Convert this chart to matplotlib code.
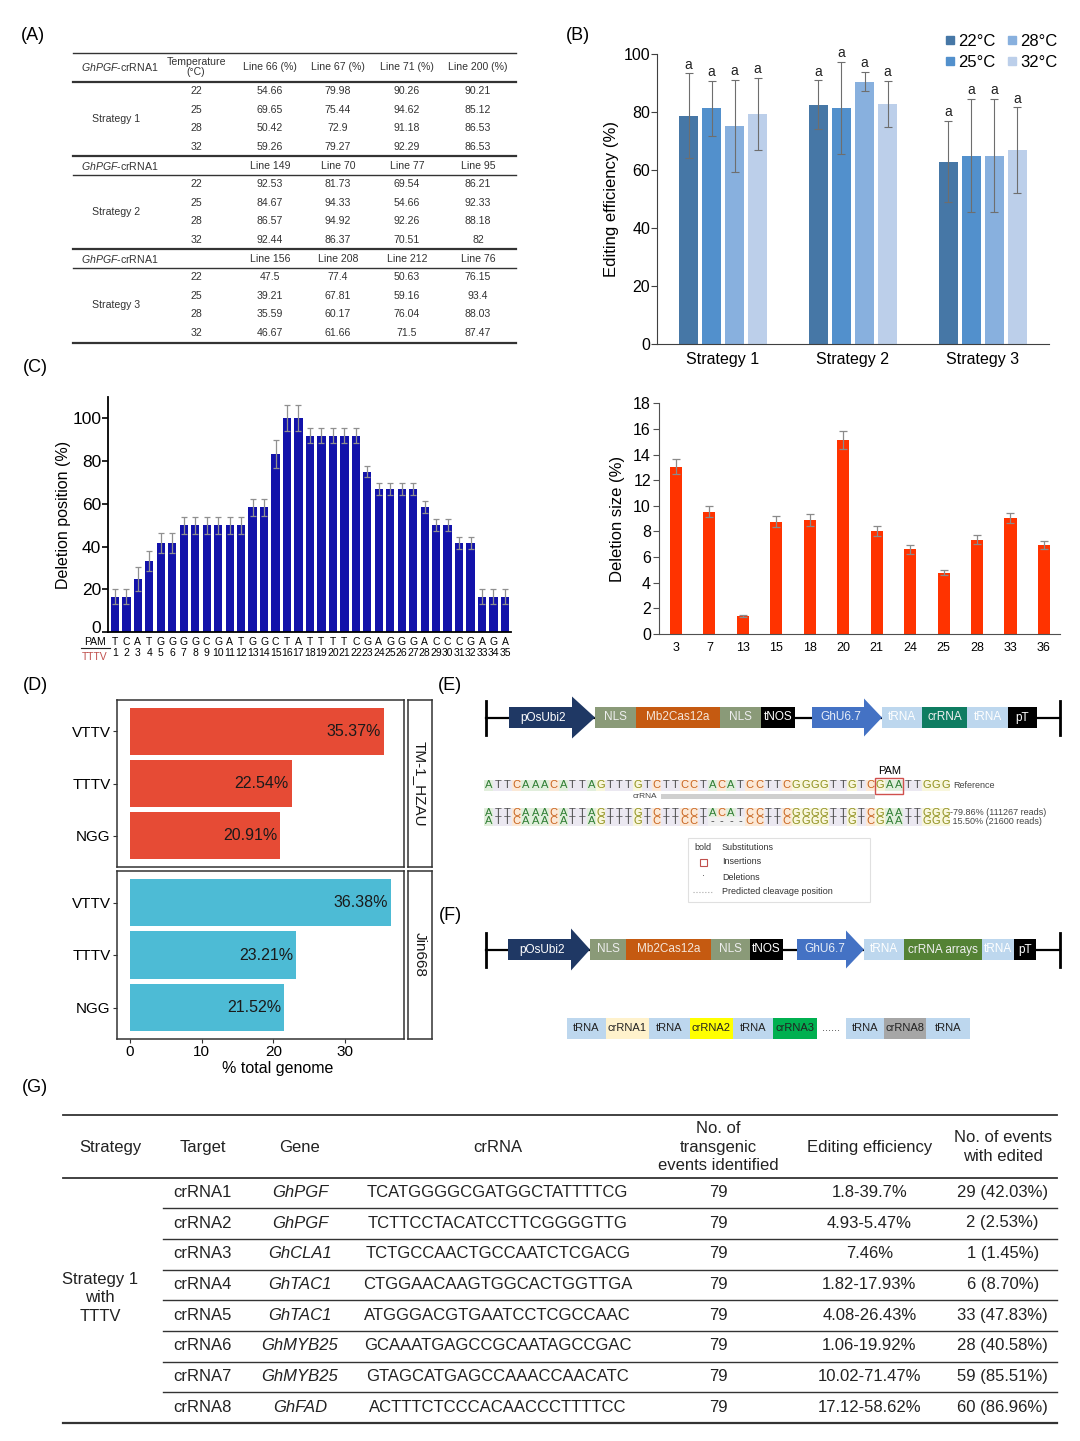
import numpy as np
import matplotlib.pyplot as plt
import matplotlib.transforms as mtrans
from matplotlib.patches import Rectangle, Polygon
from matplotlib.lines import Line2D
from matplotlib.transforms import blended_transform_factory

plt.rcParams['font.family'] = ['Liberation Sans', 'DejaVu Sans']
plt.rcParams['mathtext.fontset'] = 'custom'
plt.rcParams['mathtext.rm'] = 'Liberation Sans'
plt.rcParams['mathtext.it'] = 'Liberation Sans:italic'

W, H = 1080, 1441

# ---------------- data ----------------
# (A) editing efficiency of each line
a_strategies = ['Strategy 1', 'Strategy 2', 'Strategy 3']
a_temps = ['22', '25', '28', '32']
a_lines = [['Line 66 (%)', 'Line 67 (%)', 'Line 71 (%)', 'Line 200 (%)'],
           ['Line 149', 'Line 70', 'Line 77', 'Line 95'],
           ['Line 156', 'Line 208', 'Line 212', 'Line 76']]
a_s1 = [['54.66', '79.98', '90.26', '90.21'],
        ['69.65', '75.44', '94.62', '85.12'],
        ['50.42', '72.9', '91.18', '86.53'],
        ['59.26', '79.27', '92.29', '86.53']]
a_s2 = [['92.53', '81.73', '69.54', '86.21'],
        ['84.67', '94.33', '54.66', '92.33'],
        ['86.57', '94.92', '92.26', '88.18'],
        ['92.44', '86.37', '70.51', '82']]
a_s3 = [['47.5', '77.4', '50.63', '76.15'],
        ['39.21', '67.81', '59.16', '93.4'],
        ['35.59', '60.17', '76.04', '88.03'],
        ['46.67', '61.66', '71.5', '87.47']]

# (B) mean editing efficiency
b_groups = ['Strategy 1', 'Strategy 2', 'Strategy 3']
b_temps = ['22°C', '25°C', '28°C', '32°C']
b_22 = [78.78, 82.50, 62.92]
b_25 = [81.21, 81.50, 64.90]
b_28 = [75.26, 90.48, 64.96]
b_32 = [79.34, 82.83, 66.83]
b_22_sd = [14.5, 8.4, 13.9]
b_25_sd = [9.5, 15.9, 19.5]
b_28_sd = [15.8, 3.3, 19.6]
b_32_sd = [12.5, 8.0, 14.8]
b_colors = ['#4677a6', '#5290cc', '#88b0de', '#bccfea']

# (C) deletion position / size
c_bases = list('TCATGGGGCGATGGCTATTTTCGAGGGACCCGAGA')
c_pos = [16.7, 16.7, 25.0, 33.3, 41.7, 41.7, 50, 50, 50, 50, 50, 50, 58.3, 58.3,
         83.3, 100, 100, 91.7, 91.7, 91.7, 91.7, 91.7, 75.0, 66.7, 66.7, 66.7, 66.7,
         58.3, 50, 50, 41.7, 41.7, 16.7, 16.7, 16.7]
c_pos_err = [3.4, 3.4, 5.6, 4.7, 4.5, 4.5, 4, 4, 4, 4, 4, 4, 4, 4, 6.4, 5.9, 5.9,
             3.5, 3.5, 3.5, 3.5, 3.5, 2.7, 2.8, 2.8, 2.8, 2.8, 2.8, 2.8, 2.8, 3, 3,
             3.5, 3.5, 3.5]
c_size_cats = ['3', '7', '13', '15', '18', '20', '21', '24', '25', '28', '33', '36']
c_size = [13.05, 9.55, 1.40, 8.77, 8.9, 15.1, 8.06, 6.6, 4.79, 7.36, 9.05, 6.97]
c_size_err = [0.6, 0.45, 0.05, 0.45, 0.45, 0.7, 0.4, 0.35, 0.2, 0.37, 0.42, 0.32]

# (D) PAM frequency in genomes
d_pams = ['VTTV', 'TTTV', 'NGG']
d_tm1 = [35.37, 22.54, 20.91]
d_jin = [36.38, 23.21, 21.52]

# (E) amplicon alleles
e_ref = 'ATTCAAACATTAGTTTGTCTTCCTACATCCTTCGGGGTTGTCGAATTGGG'
e_alleles = ['ATTCAAACATTAGTTTGTCTTCCTACATCCTTCGGGGTTGTCGAATTGGG',
             'ATTCAAACATTAGTTTGTCTTCCT----CCTTCGGGGTTGTCGAATTGGG']
e_allele_labels = ['-79.86% (111267 reads)', ' 15.50% (21600 reads)']

# (G) multiplex editing summary
g_targets = ['crRNA1', 'crRNA2', 'crRNA3', 'crRNA4', 'crRNA5', 'crRNA6', 'crRNA7', 'crRNA8']
g_genes = ['GhPGF', 'GhPGF', 'GhCLA1', 'GhTAC1', 'GhTAC1', 'GhMYB25', 'GhMYB25', 'GhFAD']
g_seqs = ['TCATGGGGCGATGGCTATTTTCG', 'TCTTCCTACATCCTTCGGGGTTG',
          'TCTGCCAACTGCCAATCTCGACG', 'CTGGAACAAGTGGCACTGGTTGA',
          'ATGGGACGTGAATCCTCGCCAAC', 'GCAAATGAGCCGCAATAGCCGAC',
          'GTAGCATGAGCCAAACCAACATC', 'ACTTTCTCCCACAACCCTTTTCC']
g_events = ['79', '79', '79', '79', '79', '79', '79', '79']
g_eff = ['1.8-39.7%', '4.93-5.47%', '7.46%', '1.82-17.93%', '4.08-26.43%',
         '1.06-19.92%', '10.02-71.47%', '17.12-58.62%']
g_edited = ['29 (42.03%)', '2 (2.53%)', '1 (1.45%)', '6 (8.70%)', '33 (47.83%)',
            '28 (40.58%)', '59 (85.51%)', '60 (86.96%)']

# ---------------- figure ----------------
fig = plt.figure(figsize=(W / 100, H / 100), dpi=100)


def add_ax(x0, y0, x1, y1):
    return fig.add_axes([x0 / W, 1 - y1 / H, (x1 - x0) / W, (y1 - y0) / H])


bg = fig.add_axes([0, 0, 1, 1])
bg.set_xlim(0, W)
bg.set_ylim(H, 0)
bg.axis('off')
bg.patch.set_alpha(0)
bg.set_zorder(10)

for lab, (x, y) in {'(A)': (33, 35), '(B)': (578, 35), '(C)': (35, 368), '(D)': (35, 685),
                    '(E)': (450, 685), '(F)': (450, 915), '(G)': (35, 1087)}.items():
    bg.text(x, y, lab, fontsize=13, ha='center', va='center')

# ---- (A) table ----
tc = '#333333'
fa = 7.6
for y, lw in [(52.7, 1.0), (81.7, 1.6), (156, 1.6), (175, 1.0), (249, 1.6), (267.7, 1.0), (342.7, 1.6)]:
    bg.plot([72.7, 516], [y, y], color=tc, lw=lw)
col_x = [270, 338, 407, 478]
hdr_y = [67, 165.7, 259]
row_y0 = [91, 184, 277]
a_tabs = [a_s1, a_s2, a_s3]
for s in range(3):
    bg.text(120, hdr_y[s], r'$\mathit{GhPGF}$-crRNA1', fontsize=fa, ha='center', va='center', color=tc)
    for j in range(4):
        bg.text(col_x[j], hdr_y[s], a_lines[s][j], fontsize=fa, ha='center', va='center', color=tc)
    ys = row_y0[s] + np.arange(4) * 18.7
    bg.text(116, ys.mean(), a_strategies[s], fontsize=fa, ha='center', va='center', color=tc)
    for i in range(4):
        bg.text(196, ys[i], a_temps[i], fontsize=fa, ha='center', va='center', color=tc)
        for j in range(4):
            bg.text(col_x[j], ys[i], a_tabs[s][i][j], fontsize=fa, ha='center', va='center', color=tc)
bg.text(196, 67, 'Temperature\n(°C)', fontsize=fa, ha='center', va='center', color=tc, linespacing=1.1)

# ---- (B) ----
axB = add_ax(657, 54, 1049, 344)
xg = np.arange(3)
b_vals = [b_22, b_25, b_28, b_32]
b_sds = [b_22_sd, b_25_sd, b_28_sd, b_32_sd]
handles = []
for k in range(4):
    xs = xg + (k - 1.5) * 0.177
    axB.bar(xs, b_vals[k], width=0.146, color=b_colors[k])
    axB.errorbar(xs, b_vals[k], yerr=b_sds[k], fmt='none', ecolor='#6e6e6e',
                 elinewidth=0.8, capsize=3, capthick=0.8)
    for xi, m, e in zip(xs, b_vals[k], b_sds[k]):
        axB.text(xi, m + e + 0.6, 'a', ha='center', va='bottom', fontsize=10, color='#222222')
    handles.append(Line2D([], [], marker='s', color=b_colors[k], linestyle='none', markersize=6))
axB.set_xlim(-0.508, 2.508)
axB.set_ylim(0, 100)
axB.set_yticks(range(0, 101, 20))
axB.set_xticks(xg)
axB.set_xticklabels(b_groups)
for s in ['top', 'right']:
    axB.spines[s].set_visible(False)
for s in ['left', 'bottom']:
    axB.spines[s].set_color('#404040')
axB.tick_params(axis='y', length=4, color='#404040', labelsize=11.5, pad=1)
axB.tick_params(axis='x', length=0, labelsize=11.5, pad=6)
axB.set_ylabel('Editing efficiency (%)', fontsize=12, labelpad=3)
fig.legend(handles, b_temps, loc='upper right', bbox_to_anchor=(1066 / W, 1 - 26 / H), ncol=2,
           frameon=False, fontsize=12, handlelength=0.6, handletextpad=0.2,
           columnspacing=0.7, labelspacing=0.35, borderpad=0)

# ---- (C) left: deletion position ----
axC1 = add_ax(108.3, 396.7, 510.7, 632.3)
xp = np.arange(1, 36)
axC1.bar(xp, c_pos, width=0.72, color='#1212aa')
axC1.errorbar(xp, c_pos, yerr=c_pos_err, fmt='none', ecolor='#909090', elinewidth=0.9,
              capsize=2.5, capthick=0.9)
axC1.set_xlim(0.42, 35.5)
axC1.set_ylim(0, 110)
axC1.set_yticks(range(0, 101, 20))
axC1.set_xticks([])
for s in ['top', 'right']:
    axC1.spines[s].set_visible(False)
for s in ['left', 'bottom']:
    axC1.spines[s].set_linewidth(1.3)
axC1.tick_params(axis='y', length=4, width=1.2, labelsize=12.5, pad=1)
axC1.set_ylabel('Deletion position (%)', fontsize=11.5, labelpad=1)
# the zero label sits a little above the x axis in the reference
t0 = axC1.yaxis.get_major_ticks()[0]
t0.label1.set_transform(t0.label1.get_transform() +
                        mtrans.ScaledTranslation(0, 5 / 100, fig.dpi_scale_trans))
trC = blended_transform_factory(axC1.transData, bg.transData)
for i, b in enumerate(c_bases):
    axC1.text(xp[i], 642, b, transform=trC, ha='center', va='center', fontsize=7.5)
    axC1.text(xp[i], 653, str(xp[i]), transform=trC, ha='center', va='center', fontsize=7.5)
bg.text(95, 642, 'PAM', fontsize=7.5, ha='center', va='center')
bg.plot([81, 110], [647.5, 647.5], color='#222222', lw=0.8)
bg.text(95, 656.5, 'TTTV', fontsize=7.5, ha='center', va='center', color='#c0504d')

# ---- (C) right: deletion size ----
axC2 = add_ax(659.3, 403.3, 1060, 634)
xs2 = np.arange(len(c_size_cats))
axC2.bar(xs2, c_size, width=0.36, color='#ff3300')
axC2.errorbar(xs2, c_size, yerr=c_size_err, fmt='none', ecolor='#8a8a8a', elinewidth=0.9,
              capsize=3, capthick=0.9)
axC2.set_xlim(-0.5, 11.48)
axC2.set_ylim(0, 18)
axC2.set_yticks(range(0, 19, 2))
axC2.set_xticks(xs2)
axC2.set_xticklabels(c_size_cats)
for s in ['top', 'right']:
    axC2.spines[s].set_visible(False)
for s in ['left', 'bottom']:
    axC2.spines[s].set_color('#505050')
axC2.tick_params(axis='y', length=4, color='#505050', labelsize=11.5, pad=2)
axC2.tick_params(axis='x', length=0, labelsize=9, pad=6)
axC2.set_ylabel('Deletion size (%)', fontsize=12, labelpad=6)

# ---- (D) ----
d_sets = [(d_tm1, '#e64b35', 'TM-1_HZAU', 700, 867), (d_jin, '#4dbbd5', 'Jin668', 871, 1039)]
yd = np.array([3, 2, 1])
for n, (vals, col, strip, y0, y1) in enumerate(d_sets):
    ax = add_ax(116.7, y0, 404.3, y1)
    ax.barh(yd, vals, height=0.9, color=col)
    for yy, v in zip(yd, vals):
        ax.text(v - 0.4, yy, f'{v:.2f}%', ha='right', va='center', fontsize=11.5, color='#1a1a1a')
    ax.set_xlim(-1.86, 38.26)
    ax.set_ylim(0.4, 3.6)
    ax.set_yticks(yd)
    ax.set_yticklabels(d_pams)
    ax.set_xticks([0, 10, 20, 30])
    for s in ax.spines.values():
        s.set_color('#333333')
        s.set_linewidth(1.1)
    ax.tick_params(axis='y', length=3, color='#333333', labelsize=11, pad=1.5)
    ax.tick_params(axis='x', length=3, color='#333333', labelsize=11, pad=1.5)
    if n == 0:
        ax.tick_params(axis='x', bottom=False, labelbottom=False)
    sx = add_ax(407.7, y0, 432.3, y1)
    sx.set_xticks([])
    sx.set_yticks([])
    for s in sx.spines.values():
        s.set_color('#333333')
        s.set_linewidth(1.1)
    sx.text(0.5, 0.5, strip, rotation=-90, ha='center', va='center', fontsize=11,
            transform=sx.transAxes, color='#1a1a1a')
bg.text(278, 1068, '% total genome', fontsize=11.5, ha='center', va='center')


# ---- (E)/(F) constructs ----
def box(x0, x1, y0, y1, color, label, tcol='white', fs=8.5):
    bg.add_patch(Rectangle((x0, y0), x1 - x0, y1 - y0, facecolor=color, edgecolor='none'))
    if label:
        bg.text((x0 + x1) / 2, (y0 + y1) / 2, label, ha='center', va='center', fontsize=fs, color=tcol)


def arrow(x0, xh, xt, y0, y1, h0, h1, color, label, tcol='white'):
    ym = (y0 + y1) / 2
    pts = [(x0, y0), (xh, y0), (xh, h0), (xt, ym), (xh, h1), (xh, y1), (x0, y1)]
    bg.add_patch(Polygon(pts, closed=True, facecolor=color, edgecolor='none'))
    bg.text((x0 + xh) / 2 + 3, ym, label, ha='center', va='center', fontsize=8.5, color=tcol)


def construct(yc, arrays_label, arrays_col, xs):
    y0, y1 = yc - 10.5, yc + 10.5
    bg.plot([486, 1060], [yc, yc], color='black', lw=1.6, zorder=0)
    bg.plot([486, 486], [yc - 17, yc + 17], color='black', lw=2)
    bg.plot([1060, 1060], [yc - 17, yc + 17], color='black', lw=2)
    arrow(xs[0], xs[1], xs[2], y0, y1, yc - 21, yc + 21, '#1f3864', 'pOsUbi2')
    box(xs[2], xs[3], y0, y1, '#8a9a78', 'NLS', '#eeeeee')
    box(xs[3], xs[4], y0, y1, '#c55a11', 'Mb2Cas12a', '#f5e6da')
    box(xs[4], xs[5], y0, y1, '#8a9a78', 'NLS', '#eeeeee')
    box(xs[5], xs[6], y0, y1, 'black', 'tNOS')
    arrow(xs[7], xs[8], xs[9], y0, y1, yc - 19, yc + 19, '#4472c4', 'GhU6.7', '#e8eef8')
    box(xs[9], xs[10], y0, y1, '#bdd7ee', 'tRNA', 'white')
    box(xs[10], xs[11], y0, y1, arrays_col, arrays_label, '#f0f0f0')
    box(xs[11], xs[12], y0, y1, '#bdd7ee', 'tRNA', 'white')
    box(xs[12], xs[13], y0, y1, 'black', 'pT')


construct(717.5, 'crRNA', '#0e7c61',
          [509, 572, 595, 636, 720, 761, 795, 812, 864, 882, 922, 967, 1008, 1037])
construct(949.5, 'crRNA arrays', '#548235',
          [508, 571, 590, 626, 711, 750, 783, 797, 846, 864, 904, 982, 1014, 1036])

# sequence alignment
base_fg = {'A': '#2e7d32', 'T': '#505050', 'C': '#c8641e', 'G': '#8f8f1c', '-': '#444444'}
base_bg = {'A': '#e1eedc', 'T': '#ebe8f1', 'C': '#fbe8d6', 'G': '#f8f6dc', '-': '#f0f0f0'}
sx0, cw = 484, 9.32


def seq_row(seq, y, h):
    for i, b in enumerate(seq):
        bg.add_patch(Rectangle((sx0 + i * cw, y - h / 2), cw, h, facecolor=base_bg[b], edgecolor='none'))
        bg.text(sx0 + (i + 0.5) * cw, y, b, ha='center', va='center', fontsize=8, color=base_fg[b])


seq_row(e_ref, 785, 11)
bg.text(sx0 + 50 * cw + 3, 785, 'Reference', fontsize=6.5, ha='left', va='center', color='#444444')
for r, (al, lab) in enumerate(zip(e_alleles, e_allele_labels)):
    yy = 812.5 + r * 9
    seq_row(al, yy, 9)
    bg.text(sx0 + 50 * cw, yy, lab, fontsize=6.5, ha='left', va='center', color='#444444')
bg.add_patch(Rectangle((sx0 + 42 * cw, 777.5), 3 * cw, 16, facecolor='none', edgecolor='#d0504d', lw=1))
bg.text(sx0 + 43.5 * cw, 771, 'PAM', fontsize=8, ha='center', va='center')
bg.add_patch(Rectangle((sx0 + 19 * cw, 794), 23 * cw, 5, facecolor='#cfcfcf', edgecolor='none'))
bg.text(645, 796.5, 'crRNA', fontsize=6, ha='center', va='center', color='#444444')

# legend box of (E)
bg.add_patch(Rectangle((688, 838), 182, 64, facecolor='none', edgecolor='#e0e0e0', lw=0.8))
leg_items = ['Substitutions', 'Insertions', 'Deletions', 'Predicted cleavage position']
for i, t in enumerate(leg_items):
    bg.text(722, 847 + i * 15, t, fontsize=6.5, ha='left', va='center', color='#333333')
bg.text(694, 847, 'bold', fontsize=6.5, ha='left', va='center', color='#333333')
bg.add_patch(Rectangle((699.5, 858.5), 7, 7, facecolor='none', edgecolor='#c0504d', lw=0.8))
bg.text(703, 876, '·', fontsize=6.5, ha='center', va='center', color='#555555')
bg.plot([693, 713], [892, 892], color='#aaaaaa', lw=0.8, ls=':')

# crRNA array of (F)
f_parts = [('tRNA', '#bdd7ee', 567, 606), ('crRNA1', '#fff2cc', 606, 649),
           ('tRNA', '#bdd7ee', 649, 690), ('crRNA2', '#ffff00', 690, 733),
           ('tRNA', '#bdd7ee', 733, 773), ('crRNA3', '#00b050', 773, 817),
           ('tRNA', '#bdd7ee', 846, 884), ('crRNA8', '#a6a6a6', 884, 926),
           ('tRNA', '#bdd7ee', 926, 970)]
for lab, col, x0, x1 in f_parts:
    box(x0, x1, 1017.5, 1039, col, lab, '#222222', 8)
bg.text(831, 1028, '......', fontsize=8, ha='center', va='center', color='#444444')

# ---- (G) table ----
gc = '#222222'
fg = 12
bg.plot([62.7, 1057], [1115, 1115], color='#333333', lw=1.3)
bg.plot([62.7, 1057], [1178.3, 1178.3], color='#333333', lw=1.3)
bg.plot([62.7, 1057], [1422.7, 1422.7], color='#333333', lw=1.6)
g_cols = [202.7, 300, 497.7, 718.3, 869.3, 1002.7]
hdrs = ['Target', 'Gene', 'crRNA', 'No. of\ntransgenic\nevents identified',
        'Editing efficiency', 'No. of events\nwith edited']
bg.text(110, 1147.3, 'Strategy', fontsize=fg, ha='center', va='center', color=gc)
for x, t in zip(g_cols, hdrs):
    bg.text(x, 1147.3, t, fontsize=fg, ha='center', va='center', color=gc, linespacing=1.3)
gy = 1192.3 + np.arange(8) * 30.7
for i in range(8):
    cells = [g_targets[i], g_genes[i], g_seqs[i], g_events[i], g_eff[i], g_edited[i]]
    for j, (x, t) in enumerate(zip(g_cols, cells)):
        bg.text(x, gy[i], t, fontsize=fg, ha='center', va='center', color=gc,
                style='italic' if j == 1 else 'normal')
    if i < 7:
        ys = (gy[i] + gy[i + 1]) / 2 + 0.5
        bg.plot([163.3, 1057], [ys, ys], color='#333333', lw=1.0)
bg.text(100, 1298, 'Strategy 1\nwith\nTTTV', fontsize=fg, ha='center', va='center', color=gc,
        linespacing=1.3)

fig.savefig('out.png', dpi=100)
